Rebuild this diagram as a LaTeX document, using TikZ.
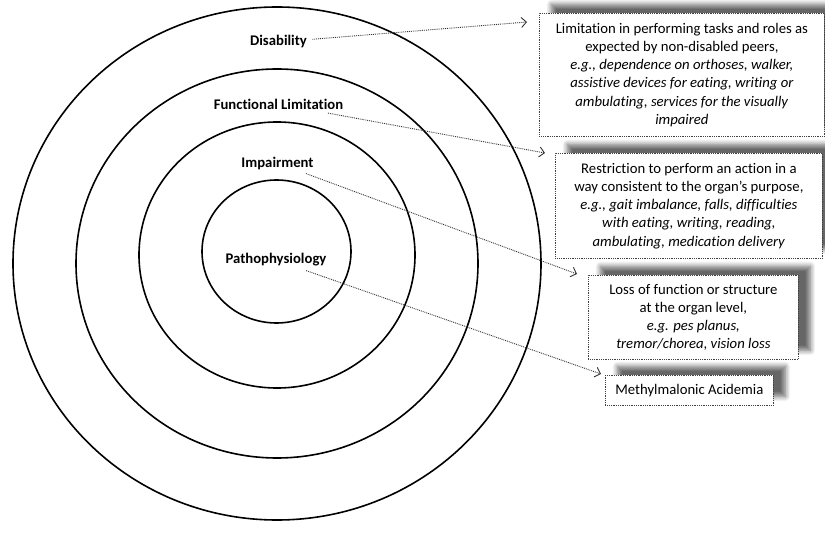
\documentclass[tikz,border=0pt]{standalone}
\usepackage{fontspec}
\setmainfont{Carlito}[Ligatures={TeX,NoCommon}]
\usetikzlibrary{arrows.meta,shadows.blur}

\tikzset{
	ring/.style={line width=1.6pt},
	lvl/.style={font=\bfseries\fontsize{14.7}{17}\selectfont},
	desc/.style={draw=black!75,densely dotted,line width=0.8pt,fill=white,anchor=north west,
		align=center,inner sep=2pt,font=\fontsize{14.7}{18.2}\selectfont,
		blur shadow={shadow xshift=12pt,shadow yshift=9pt,shadow opacity=60,shadow blur radius=5pt,shadow blur steps=10}},
	link/.style={densely dotted,line width=0.9pt,black!80,shorten <=2pt,
		-{Straight Barb[length=5pt,width=10pt,line width=0.9pt]}}
}

\begin{document}
\begin{tikzpicture}[x=1pt,y=-1pt]
	\useasboundingbox (0,0) rectangle (825,540);

	% the four levels, outermost first
	\draw[ring] (277,263.5) ellipse [x radius=264,y radius=256.5];
	\draw[ring] (277,263.5) ellipse [x radius=201,y radius=194.5];
	\draw[ring] (277,255) ellipse [x radius=138,y radius=133];
	\draw[ring] (276.5,251.5) ellipse [x radius=74.5,y radius=71.5];

	\node(dis)[lvl] at (278.5,42){Disability};
	\node(fl)[lvl] at (278.5,104){Functional Limitation};
	\node(imp)[lvl] at (277.5,163){Impairment};
	\node(pp)[lvl] at (276,260){Pathophysiology};

	\node(b1)[desc,minimum width=285pt,minimum height=123pt] at (539,13)
		{Limitation in performing tasks and roles as\\
		expected by non-disabled peers,\\
		\textit{e.g., dependence on orthoses, walker,}\\
		\textit{assistive devices for eating, writing or}\\
		\textit{ambulating, services for the visually}\\
		\textit{impaired}};
	\node(b2)[desc,minimum width=267pt,minimum height=105pt] at (555,153)
		{Restriction to perform an action in a\\
		way consistent to the organ’s purpose,\\
		\textit{e.g., gait imbalance, falls, difficulties}\\
		\textit{with eating, writing, reading,}\\
		\textit{ambulating, medication delivery}};
	\node(b3)[desc,minimum width=210pt,minimum height=84pt] at (588,275)
		{Loss of function or structure\\
		at the organ level,\\
		\textit{e.g. pes planus,}\\
		\textit{tremor/chorea, vision loss}};
	\node(b4)[desc,minimum width=168pt,minimum height=30pt] at (605,375)
		{Methylmalonic Acidemia};

	\path[link] (dis) edge ([shift={(-12,9)}]b1.north west)
		(fl) edge ([shift={(-10,0)}]b2.north west)
		(imp) edge ([shift={(-11,-1)}]b3.north west)
		(pp) edge ([shift={(-4,-1)}]b4.north west);
\end{tikzpicture}
\end{document}
